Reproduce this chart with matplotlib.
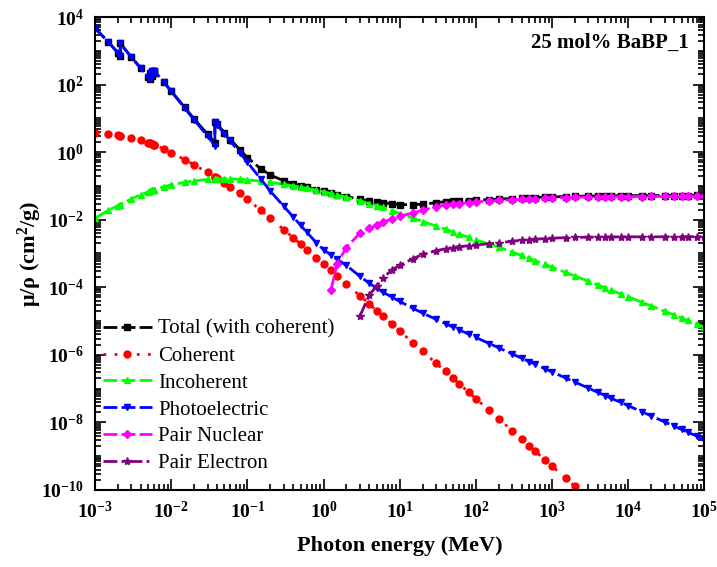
import matplotlib
matplotlib.use('Agg')
import matplotlib.pyplot as plt
from matplotlib.ticker import LogLocator, FuncFormatter, NullFormatter
import numpy as np

plt.rcParams['font.family'] = 'Liberation Serif'
plt.rcParams['mathtext.fontset'] = 'custom'
plt.rcParams['mathtext.rm'] = 'Liberation Serif:bold'
plt.rcParams['mathtext.bf'] = 'Liberation Serif:bold'
plt.rcParams['mathtext.it'] = 'Liberation Serif:bold:italic'

# Energia dos fotons (MeV), com as bordas de absorcao repetidas
energia = [1e-3, 1.5e-3, 2e-3, 2.1455e-3, 2.1455e-3, 3e-3, 4e-3, 5e-3,
           5.247e-3, 5.247e-3, 5.624e-3, 5.624e-3, 5.989e-3, 5.989e-3, 6e-3, 8e-3,
           1e-2, 1.5e-2, 2e-2, 3e-2, 3.7441e-2, 3.7441e-2, 4e-2, 5e-2, 6e-2, 8e-2,
           0.1, 0.15, 0.2, 0.3, 0.4, 0.5, 0.6, 0.8,
           1, 1.25, 1.5, 2, 3, 4, 5, 6, 8,
           10, 15, 20, 30, 40, 50, 60, 80,
           100, 150, 200, 300, 400, 500, 600, 800,
           1e3, 1.5e3, 2e3, 3e3, 4e3, 5e3, 6e3, 8e3,
           1e4, 1.5e4, 2e4, 3e4, 4e4, 5e4, 6e4, 8e4, 1e5]

total = [4704, 1803, 873, 723, 1653, 653, 302, 172,
         150, 217, 184, 252, 215, 254, 253, 119,
         64, 21.2, 9.6, 3.4, 1.9, 7.95, 6.7, 3.8, 2.35, 1.17,
         0.69, 0.32, 0.21, 0.142, 0.115, 0.101, 0.091, 0.078,
         0.069, 0.0613, 0.0554, 0.0481, 0.0403, 0.0357, 0.0332, 0.0316, 0.0296,
         0.0280, 0.0277, 0.0288, 0.0317, 0.0341, 0.0349, 0.0354, 0.0367,
         0.0378, 0.0393, 0.0406, 0.0422, 0.0435, 0.0445, 0.0453, 0.0464,
         0.0472, 0.0484, 0.0492, 0.0500, 0.0505, 0.0508, 0.0510, 0.0513,
         0.0515, 0.0516, 0.0517, 0.0518, 0.0519, 0.0519, 0.0519, 0.0520, 0.0520]

coerente = [3.7, 3.4, 3.15, 3.1, 3.1, 2.65, 2.25, 1.9,
            1.83, 1.83, 1.74, 1.74, 1.65, 1.65, 1.65, 1.25,
            0.97, 0.6, 0.42, 0.25, 0.185, 0.185, 0.17, 0.125, 0.093, 0.06,
            0.04, 0.019, 0.011, 0.0051, 0.0029, 0.0019, 0.0013, 7.5e-4,
            4.9e-4, 3.2e-4, 2.2e-4, 1.25e-4, 5.6e-5, 3.2e-5, 2.0e-5, 1.4e-5, 7.9e-6,
            5.0e-6, 2.25e-6, 1.27e-6, 5.6e-7, 3.2e-7, 2.0e-7, 1.4e-7, 7.9e-8,
            5.0e-8, 2.25e-8, 1.27e-8, 5.6e-9, 3.2e-9, 2.0e-9, 1.4e-9, 7.9e-10,
            5.0e-10, 2.25e-10, 1.27e-10, 5.6e-11]

incoerente = [0.011, 0.019, 0.026, 0.028, 0.028, 0.041, 0.055, 0.067,
              0.070, 0.070, 0.074, 0.074, 0.077, 0.077, 0.077, 0.094,
              0.107, 0.128, 0.141, 0.155, 0.160, 0.160, 0.161, 0.163, 0.162, 0.157,
              0.151, 0.138, 0.128, 0.112, 0.100, 0.092, 0.085, 0.075,
              0.067, 0.060, 0.054, 0.046, 0.036, 0.030, 0.026, 0.023, 0.0186,
              0.0150, 0.0110, 0.0088, 0.0065, 0.0052, 0.0044, 0.0038, 0.0030,
              0.0025, 0.0019, 0.00155, 0.0011, 8.7e-4, 7.2e-4, 6.1e-4, 4.8e-4,
              3.9e-4, 2.75e-4, 2.15e-4, 1.5e-4, 1.17e-4, 9.6e-5, 8.1e-5, 6.3e-5,
              5.2e-5, 3.6e-5, 2.8e-5, 1.93e-5, 1.5e-5, 1.23e-5, 1.04e-5, 8.0e-6, 6.5e-6]

fotoeletrico = [4700, 1800, 870, 720, 1650, 650, 300, 170,
                148, 215, 182, 250, 213, 252, 251, 118,
                63, 20.5, 9.0, 3.0, 1.55, 7.6, 6.4, 3.5, 2.1, 0.95,
                0.5, 0.16, 0.07, 0.025, 0.012, 0.0068, 0.0043, 0.0021,
                0.0013, 9.0e-4, 6.8e-4, 4.4e-4, 2.1e-4, 1.3e-4, 9.3e-5, 7.2e-5, 5.0e-5,
                3.8e-5, 2.35e-5, 1.72e-5, 1.12e-5, 8.3e-6, 6.6e-6, 5.5e-6, 4.1e-6,
                3.25e-6, 2.15e-6, 1.6e-6, 1.06e-6, 7.9e-7, 6.3e-7, 5.2e-7, 3.9e-7,
                3.1e-7, 2.07e-7, 1.55e-7, 1.03e-7, 7.7e-8, 6.2e-8, 5.1e-8, 3.9e-8,
                3.1e-8, 2.07e-8, 1.55e-8, 1.03e-8, 7.7e-9, 6.2e-9, 5.1e-9, 3.9e-9, 3.1e-9]

# producao de pares (a partir do limiar)
par_nuclear = [8e-5, 5e-4, 1.5e-3, 4.0e-3, 5.5e-3, 7.0e-3, 8.3e-3, 0.0106,
               0.0125, 0.016, 0.019, 0.024, 0.0275, 0.029, 0.030, 0.032,
               0.0335, 0.0355, 0.037, 0.0388, 0.0402, 0.0412, 0.042, 0.0432,
               0.044, 0.0452, 0.046, 0.0468, 0.0473, 0.0476, 0.0478, 0.0481,
               0.0483, 0.0485, 0.0486, 0.0487, 0.0488, 0.0488, 0.0488, 0.0489, 0.0489]

par_eletron = [1.4e-5, 6e-5, 1.1e-4, 1.9e-4, 3.3e-4,
               4.5e-4, 7.0e-4, 9.5e-4, 1.2e-3, 1.38e-3, 1.5e-3, 1.6e-3, 1.68e-3,
               1.78e-3, 1.94e-3, 2.06e-3, 2.3e-3, 2.45e-3, 2.56e-3, 2.64e-3, 2.75e-3,
               2.83e-3, 2.93e-3, 2.98e-3, 3.03e-3, 3.06e-3, 3.07e-3, 3.08e-3, 3.09e-3,
               3.1e-3, 3.1e-3, 3.11e-3, 3.11e-3, 3.12e-3, 3.12e-3, 3.12e-3, 3.12e-3, 3.12e-3]

fig = plt.figure(figsize=(7.17, 5.67), dpi=100)
ax = fig.add_axes([0.1325, 0.136, 0.85, 0.834])

lw = 2.0
ax.plot(energia, total, color='black', linestyle=(0, (5, 1.5)), linewidth=lw,
        marker='s', markersize=4, label='Total (with coherent)')
ax.plot(energia[:len(coerente)], coerente, color='red', linestyle=(0, (1, 3)), linewidth=lw,
        marker='o', markersize=5, label='Coherent')
ax.plot(energia, incoerente, color='#00ff00', linestyle=(0, (5, 1.5)), linewidth=lw,
        marker='^', markersize=5, label='Incoherent')
ax.plot(energia, fotoeletrico, color='#0000ff', linestyle=(0, (5, 1.5)), linewidth=lw,
        marker='v', markersize=5, label='Photoelectric')
ax.plot(energia[-len(par_nuclear):], par_nuclear, color='#ff00ff', linestyle=(0, (5, 1.5)),
        linewidth=lw, marker='D', markersize=4, label='Pair Nuclear')
ax.plot(energia[-len(par_eletron):], par_eletron, color='#800080', linestyle=(0, (5, 1.5, 1, 1.5)),
        linewidth=lw, marker='*', markersize=6, label='Pair Electron')

ax.set_xscale('log')
ax.set_yscale('log')
ax.set_xlim(1e-3, 1e5)
ax.set_ylim(1e-10, 1e4)

ax.xaxis.set_major_locator(LogLocator(base=10, numticks=20))
ax.xaxis.set_minor_locator(LogLocator(base=10, subs=np.arange(2, 10), numticks=20))
ax.yaxis.set_major_locator(LogLocator(base=100, numticks=20))
ax.yaxis.set_minor_locator(LogLocator(base=10, subs=np.arange(1, 10), numticks=30))
fmt = FuncFormatter(lambda v, p: r'$10^{%d}$' % int(round(np.log10(v))))
ax.xaxis.set_major_formatter(fmt)
ax.yaxis.set_major_formatter(fmt)
ax.xaxis.set_minor_formatter(NullFormatter())
ax.yaxis.set_minor_formatter(NullFormatter())

ax.tick_params(which='both', direction='in', top=True, right=True, width=1.2)
ax.tick_params(which='major', length=8, labelsize=14, pad=8)
ax.tick_params(which='minor', length=4)
for s in ax.spines.values():
    s.set_linewidth(1.5)

ax.set_xlabel('Photon energy (MeV)', fontsize=16, fontweight='bold', labelpad=10)
ax.set_ylabel('μ/ρ (cm$^{2}$/g)', fontsize=16, fontweight='bold')
ax.yaxis.set_label_coords(-0.084, 0.5)

ax.text(0.975, 0.945, '25 mol% BaBP_1', transform=ax.transAxes, ha='right', va='center',
        fontsize=15, fontweight='bold')

ax.legend(loc='lower left', bbox_to_anchor=(0.013, 0.035), frameon=False, fontsize=15,
          handlelength=2.35, handletextpad=0.3, labelspacing=0.35, borderpad=0,
          borderaxespad=0, numpoints=1)

plt.savefig('out.png', dpi=100)
plt.close()
